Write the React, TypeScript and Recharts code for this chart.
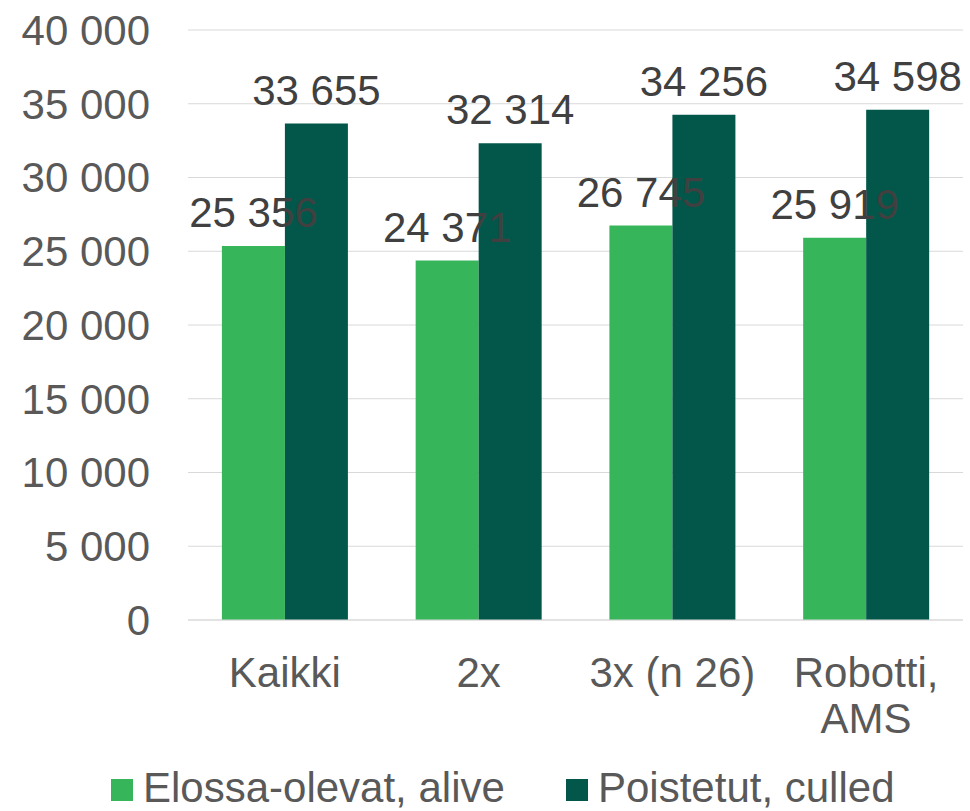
import React from 'react';
import { BarChart, Bar, XAxis, YAxis, CartesianGrid, Legend, LabelList } from 'recharts';

const categories = ['Kaikki', '2x', '3x (n 26)', 'Robotti,\nAMS'];
const aliveValues = [25356, 24371, 26745, 25919];
const culledValues = [33655, 32314, 34256, 34598];
const yTicks = [0, 5000, 10000, 15000, 20000, 25000, 30000, 35000, 40000];
const seriesNames = ['Elossa-olevat, alive', 'Poistetut, culled'];

const GREEN = '#37b55a';
const DARK = '#03574a';
const FONT = '"Liberation Sans", Arial, sans-serif';

const data = categories.map((name, i) => ({ name, alive: aliveValues[i], culled: culledValues[i] }));

const fmt = (v: number) => String(v).replace(/\B(?=(\d{3})+(?!\d))/g, ' ');

const CategoryTick = (props: any) => {
  const { x, y, payload } = props;
  const lines = String(payload.value).split('\n');
  return (
    <text x={x} y={y + 67} textAnchor="middle" fill="#595959" fontSize={42} fontFamily={FONT}>
      {lines.map((l, i) => (
        <tspan key={i} x={x} dy={i === 0 ? 0 : 46}>{l}</tspan>
      ))}
    </text>
  );
};

// labels for both series are drawn from the dark bar so they sit on top of it
const CulledLabel = (props: any) => {
  const vb = props.viewBox || props;
  const cx = vb.x + vb.width / 2;
  return (
    <text x={cx} y={vb.y - 19} textAnchor="middle" fill="#404040" fontSize={42} fontFamily={FONT}>
      {fmt(props.value)}
    </text>
  );
};

const AliveLabel = (props: any) => {
  const vb = props.viewBox || props;
  const bottom = vb.y + vb.height;
  const top = bottom - (vb.height * props.value) / culledValues[props.index];
  const cx = vb.x - vb.width / 2;
  return (
    <text x={cx} y={top - 19} textAnchor="middle" fill="#404040" fontSize={42} fontFamily={FONT}>
      {fmt(props.value)}
    </text>
  );
};

const legendLeft = [111, 566];

const LegendContent = () => (
  <div style={{ position: 'relative', height: 44, fontFamily: FONT, fontSize: 42, lineHeight: '42px', color: '#595959' }}>
    {seriesNames.map((n, i) => (
      <div key={n} style={{ position: 'absolute', left: legendLeft[i], top: 0, display: 'flex', alignItems: 'center' }}>
        <span style={{ width: 22, height: 22, background: i === 0 ? GREEN : DARK, marginRight: 10, marginTop: 4 }} />
        <span style={{ whiteSpace: 'nowrap' }}>{n}</span>
      </div>
    ))}
  </div>
);

export default function App() {
  return (
    <div style={{ position: 'absolute', left: 0, top: 0, background: '#fff' }}>
      <BarChart
        width={970}
        height={811}
        data={data}
        margin={{ top: 30, right: 7, bottom: 0, left: 0 }}
        barCategoryGap="17.5%"
        barGap={0}
      >
        <CartesianGrid vertical={false} stroke="#d9d9d9" />
        <XAxis
          dataKey="name"
          height={130}
          tickLine={false}
          tickSize={0}
          tickMargin={0}
          axisLine={{ stroke: '#d9d9d9' }}
          tick={<CategoryTick />}
          interval={0}
        />
        <YAxis
          width={188}
          domain={[0, 40000]}
          ticks={yTicks}
          tickFormatter={fmt}
          axisLine={false}
          tickLine={false}
          tickSize={0}
          tickMargin={38}
          tick={{ fill: '#595959', fontSize: 42, fontFamily: FONT }}
        />
        <Legend
          verticalAlign="bottom"
          height={61}
          content={<LegendContent />}
          wrapperStyle={{ top: 767, left: 0, width: 970 }}
        />
        <Bar dataKey="alive" name={seriesNames[0]} fill={GREEN} isAnimationActive={false} />
        <Bar dataKey="culled" name={seriesNames[1]} fill={DARK} isAnimationActive={false}>
          <LabelList dataKey="culled" content={<CulledLabel />} />
          <LabelList dataKey="alive" content={<AliveLabel />} />
        </Bar>
      </BarChart>
    </div>
  );
}
